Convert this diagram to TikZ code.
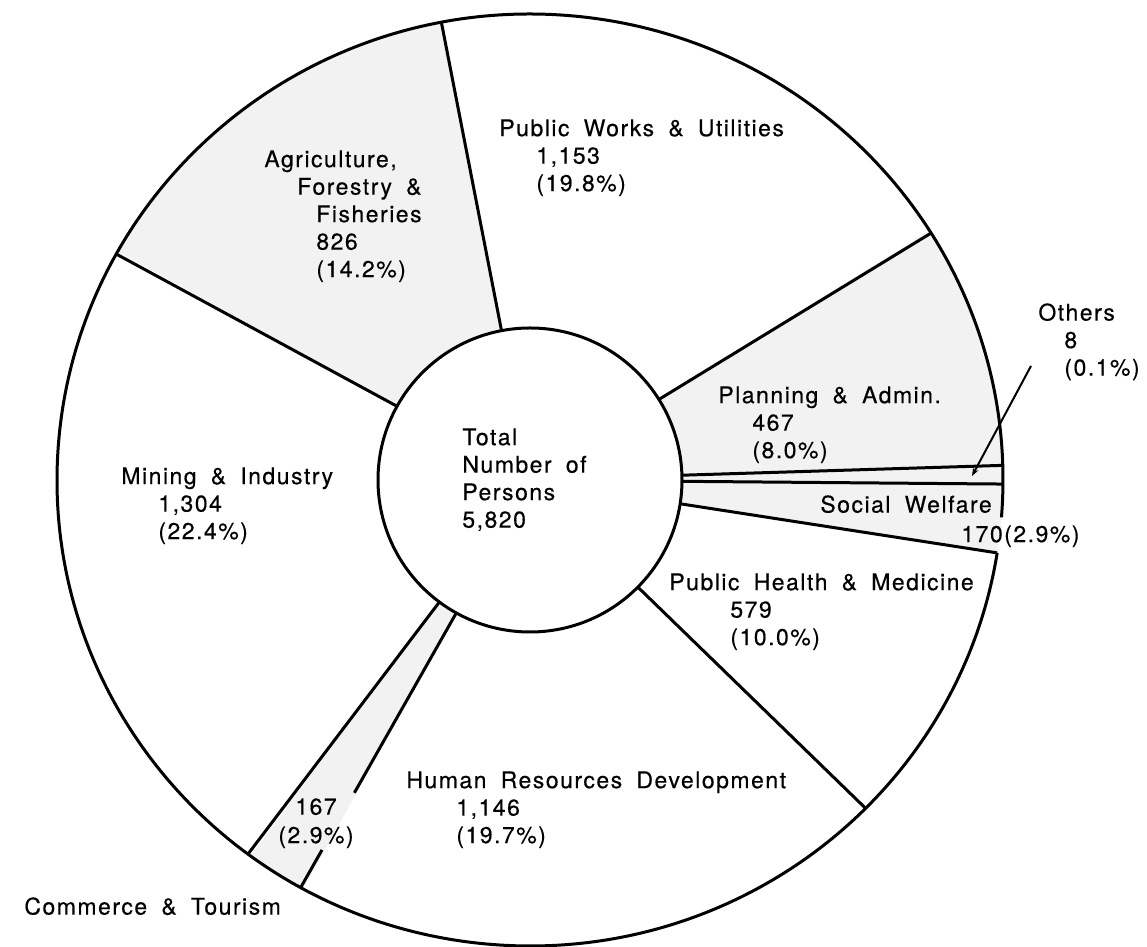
\documentclass[tikz,border=0pt]{standalone}
\usepackage{fontspec}
\setmainfont{TeX Gyre Heros}[LetterSpace=6.5,WordSpace=1.8,FakeBold=0.4]
\usetikzlibrary{arrows.meta,calc}

\begin{document}
\begin{tikzpicture}[x=0.5pt,y=0.5pt,
  every node/.style={font=\fontsize{11.5}{13.75}\selectfont,align=left,inner sep=0pt,anchor=north west},
  rim/.style={line width=1.5pt},
  stip/.style={fill=black!5}]
\useasboundingbox (0,0) rectangle (1147,947);
\coordinate (C) at (530,467);

% dotted sectors
\begin{scope}
\clip (C) ellipse (473 and 466);
\fill[stip] (C) -- +(151:700)   -- +(100.8:700) -- cycle;
\fill[stip] (C) -- +(32:700)    -- +(-9:700)    -- cycle;
\fill[stip] (C) -- +(241:700)   -- +(233.4:700) -- cycle;
\end{scope}

% outer rim, open where 170(2.9%) stands
\draw[rim] (C) ++(-4.6:473 and 466) arc[start angle=-4.6,end angle=351,x radius=473,y radius=466];
\draw[rim,fill=white] (C) circle (152);

% sector borders
\path (C) +(100.8:152) coordinate (i1) +(100.8:473 and 466) coordinate (o1);
\path (C) +(32:152)    coordinate (i2) +(32:473 and 466)    coordinate (o2);
\path (C) +(1.8:152)   coordinate (i3) +(1.8:473 and 466)   coordinate (o3);
\path (C) +(-0.5:152)  coordinate (i4) +(-0.5:473 and 466)  coordinate (o4);
\path (C) +(-9:152)    coordinate (i5) +(-9:473 and 466)    coordinate (o5);
\path (C) +(-44.8:152) coordinate (i6) +(-44.8:473 and 466) coordinate (o6);
\path (C) +(241:152)   coordinate (i7) +(241:473 and 466)   coordinate (o7);
\path (C) +(233.4:152) coordinate (i8) +(233.4:473 and 466) coordinate (o8);
\path (C) +(151:152)   coordinate (i9) +(151:473 and 466)   coordinate (o9);
\draw[rim] (i1) -- (o1);
\draw[rim] (i2) -- (o2);
\draw[rim] (i3) -- (o3);
\draw[rim] (i4) -- (o4);
\draw[rim] (i5) -- (o5);
\draw[rim] (i6) -- (o6);
\draw[rim] (i7) -- ($(i7)!0.655!(o7)$);
\draw[rim] ($(i7)!0.863!(o7)$) -- (o7);
\draw[rim] (i8) -- (o8);
\draw[rim] (i9) -- (o9);

% labels
\node (total)  at (462,519) {Total\\Number of\\Persons\\5,820};
\node (agri)   at (264,797) {Agriculture,\\\hspace*{16.5pt}Forestry \&\\\hspace*{26pt}Fisheries\\\hspace*{26pt}826\\\hspace*{26pt}(14.2\%)};
\node (works)  at (499,828) {Public Works \& Utilities\\\hspace*{18.5pt}1,153\\\hspace*{18.5pt}(19.8\%)};
\node (others) at (1038,644) {Others\\\hspace*{13pt}8\\\hspace*{13pt}(0.1\%)};
\node (plan)   at (718,561) {Planning \& Admin.\\\hspace*{17pt}467\\\hspace*{17pt}(8.0\%)};
\node (social) at (820,452) {Social Welfare};
\node (swnum)  at (961,422) {170(2.9\%)};
\node (health) at (669,374) {Public Health \& Medicine\\\hspace*{30.5pt}579\\\hspace*{30.5pt}(10.0\%)};
\node (human)  at (406,176) {Human Resources Development\\\hspace*{25pt}1,146\\\hspace*{25pt}(19.7\%)};
\node (mining) at (121,480) {Mining \& Industry\\\hspace*{18.5pt}1,304\\\hspace*{18.5pt}(22.4\%)};
\node[anchor=north] (comnum) at (316,149) {167};
\node[anchor=north] (compct) at (316,121) {(2.9\%)};
\node (commerce) at (24,50) {Commerce \& Tourism};

\coordinate (otip) at (972,471);
\draw[line width=1pt,-{Stealth[length=4pt,width=3pt]}] ([shift={(-3.5pt,-12pt)}]others.west) -- (otip);
\end{tikzpicture}
\end{document}
